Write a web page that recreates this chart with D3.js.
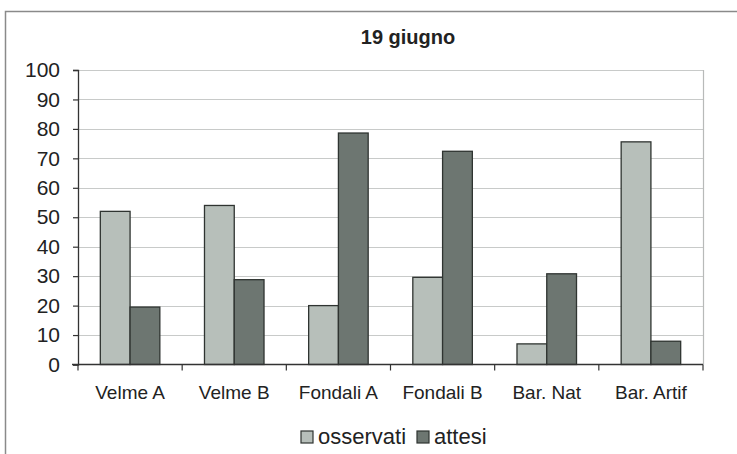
<!DOCTYPE html>
<html>
<head>
<meta charset="utf-8">
<script src="https://cdn.jsdelivr.net/npm/d3@7"></script>
<style>
  html, body { margin: 0; padding: 0; background: #fff; }
  svg { display: block; font-family: "Liberation Sans", Arial, sans-serif; }
</style>
</head>
<body>
<svg id="chart" width="737" height="454"></svg>
<script>
// Dati: presenze osservate e attese per ambiente (19 giugno)
const categories = ["Velme A", "Velme B", "Fondali A", "Fondali B", "Bar. Nat", "Bar. Artif"];
const osservati  = [52, 54, 20, 29.6, 7, 75.6];
const attesi     = [19.5, 28.8, 78.6, 72.4, 30.8, 7.9];
const seriesNames = ["osservati", "attesi"];
const yTicks = [0, 10, 20, 30, 40, 50, 60, 70, 80, 90, 100];
const title = "19 giugno";

const colors = { osservati: "#b7bfba", attesi: "#6d7671" };

const svg = d3.select("#chart");
const plot = { left: 78, right: 703, top: 70, bottom: 364.5 };

// cornice esterna del grafico
svg.append("rect")
  .attr("x", 5.5).attr("y", 11.5)
  .attr("width", 760).attr("height", 460)
  .attr("fill", "none").attr("stroke", "#8a8a8a").attr("stroke-width", 1.5);

const x0 = d3.scaleBand().domain(categories).range([plot.left, plot.right]).paddingInner(0).paddingOuter(0);
// gap 150% della larghezza della barra: 2 barre + 1.5 = 3.5 unità
const bw = x0.bandwidth() / 3.5;
const x1 = d3.scaleBand().domain(seriesNames).range([bw * 0.75, bw * 2.75]).padding(0);
const y = d3.scaleLinear().domain([0, 100]).range([plot.bottom, plot.top]);

// griglia orizzontale
svg.append("g").selectAll("line")
  .data(yTicks.filter(t => t > 0))
  .join("line")
  .attr("x1", plot.left).attr("x2", plot.right)
  .attr("y1", d => Math.round(y(d)) + 0.5).attr("y2", d => Math.round(y(d)) + 0.5)
  .attr("stroke", "#c8cac9").attr("stroke-width", 1.2);

// bordo destro dell'area del grafico
svg.append("line")
  .attr("x1", plot.right + 0.5).attr("x2", plot.right + 0.5)
  .attr("y1", plot.top).attr("y2", plot.bottom)
  .attr("stroke", "#b8bab9").attr("stroke-width", 1.2);

// barre
const rows = categories.map((c, i) => ({ cat: c, osservati: osservati[i], attesi: attesi[i] }));
const groups = svg.append("g").selectAll("g")
  .data(rows).join("g")
  .attr("transform", d => `translate(${x0(d.cat)},0)`);
groups.selectAll("rect")
  .data(d => seriesNames.map(k => ({ key: k, value: d[k] })))
  .join("rect")
  .attr("x", d => x1(d.key))
  .attr("y", d => y(d.value))
  .attr("width", x1.bandwidth())
  .attr("height", d => y(0) - y(d.value))
  .attr("fill", d => colors[d.key])
  .attr("stroke", "#2f3431").attr("stroke-width", 1.3);

// asse Y
const yAxis = d3.axisLeft(y).tickValues(yTicks).tickSize(5).tickPadding(13);
const gy = svg.append("g").attr("transform", `translate(${plot.left},0)`).call(yAxis);
gy.select(".domain").attr("stroke", "#333").attr("stroke-width", 1.3);
gy.selectAll(".tick line").attr("stroke", "#333").attr("stroke-width", 1.2);
gy.selectAll(".tick text")
  .attr("font-size", 21).attr("fill", "#222")
  .attr("font-family", "Liberation Sans, Arial, sans-serif");

// asse X con tacche tra le categorie
const gx = svg.append("g").attr("transform", `translate(0,${plot.bottom})`);
gx.append("line")
  .attr("x1", plot.left - 6).attr("x2", plot.right)
  .attr("y1", 0).attr("y2", 0)
  .attr("stroke", "#333").attr("stroke-width", 1.3);
const bounds = categories.map(c => x0(c)).concat([plot.right]);
gx.selectAll(".sep").data(bounds).join("line")
  .attr("x1", d => d).attr("x2", d => d)
  .attr("y1", 0).attr("y2", 6)
  .attr("stroke", "#333").attr("stroke-width", 1.2);
gx.selectAll(".cat").data(categories).join("text")
  .attr("x", d => x0(d) + x0.bandwidth() / 2)
  .attr("y", 34)
  .attr("text-anchor", "middle")
  .attr("font-size", 19).attr("fill", "#222")
  .text(d => d);

// titolo
svg.append("text")
  .attr("x", 408).attr("y", 44)
  .attr("text-anchor", "middle")
  .attr("font-size", 20).attr("font-weight", "bold").attr("fill", "#222")
  .text(title);

// legenda
const legend = svg.append("g").attr("transform", "translate(301,431)");
const legendX = [0, 116];
seriesNames.forEach((k, i) => {
  const g = legend.append("g").attr("transform", `translate(${legendX[i]},0)`);
  g.append("rect").attr("x", 0).attr("y", 0).attr("width", 12).attr("height", 12)
    .attr("fill", colors[k]).attr("stroke", "#2f3431").attr("stroke-width", 1.2);
  g.append("text").attr("x", 17).attr("y", 13)
    .attr("font-size", 22).attr("fill", "#222")
    .text(k);
});
</script>
</body>
</html>
